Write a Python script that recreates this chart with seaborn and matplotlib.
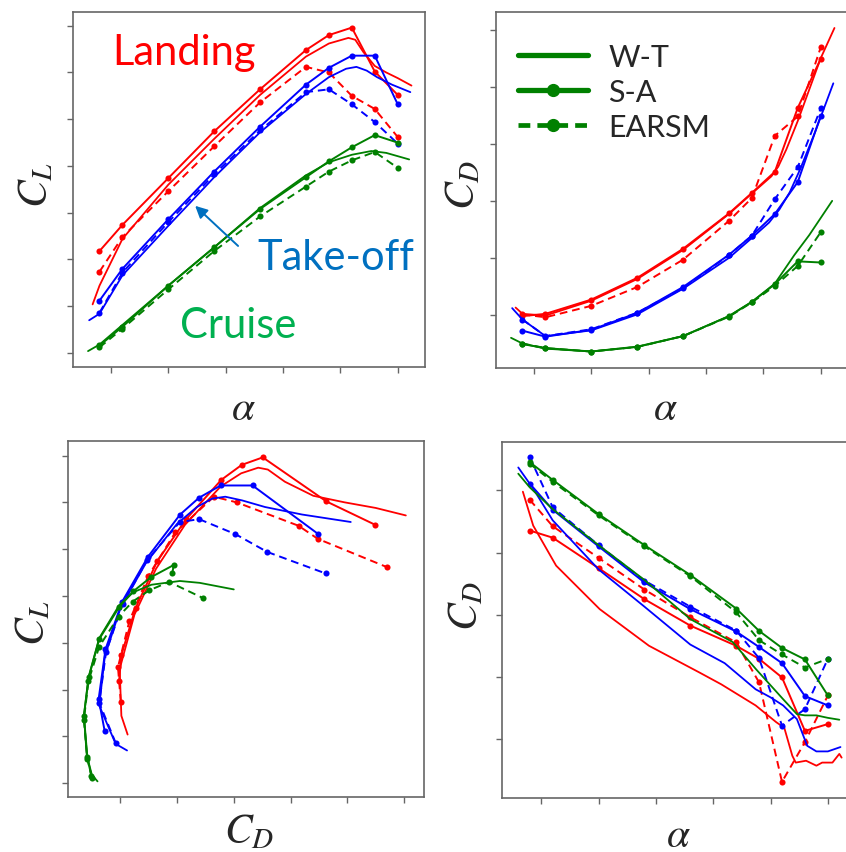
import matplotlib
matplotlib.use("Agg")
import matplotlib.pyplot as plt
import seaborn as sns
from matplotlib.lines import Line2D

# angles of attack of the CFD runs (deg)
alpha_cfd = [-1, 1, 5, 9, 13, 17, 19, 21, 23, 25]

# landing configuration
cl_sa_land = [1.09, 1.37, 1.87, 2.37, 2.82, 3.24, 3.40, 3.48, 3.01, 2.76]
cd_sa_land = [0.098, 0.102, 0.127, 0.165, 0.216, 0.278, 0.314, 0.351, 0.463, 0.549]
cl_earsm_land = [0.87, 1.24, 1.73, 2.21, 2.68, 3.06, 3.00, 2.75, 2.61, 2.31]
cd_earsm_land = [0.101, 0.096, 0.116, 0.149, 0.197, 0.265, 0.305, 0.414, 0.448, 0.569]
alpha_wt_land = [-1.6, -1, 1, 5, 9, 13, 17, 19, 20.7, 21.3, 22, 23, 24, 25, 26.2]
cl_wt_land = [0.52, 0.72, 1.22, 1.80, 2.29, 2.76, 3.17, 3.31, 3.37, 3.35, 3.22, 3.07, 3.00, 2.94, 2.86]
cd_wt_land = [0.113, 0.102, 0.099, 0.125, 0.163, 0.214, 0.277, 0.313, 0.343, 0.36, 0.39, 0.44, 0.495, 0.55, 0.603]

# take-off configuration
cl_sa_to = [0.56, 0.90, 1.43, 1.94, 2.42, 2.87, 3.05, 3.18, 3.18, 2.66]
cd_sa_to = [0.0725, 0.062, 0.074, 0.1035, 0.149, 0.2055, 0.239, 0.277, 0.333, 0.449]
cl_earsm_to = [0.43, 0.86, 1.40, 1.91, 2.38, 2.79, 2.82, 2.66, 2.47, 2.24]
cd_earsm_to = [0.092, 0.063, 0.075, 0.104, 0.147, 0.205, 0.239, 0.303, 0.359, 0.462]
alpha_wt_to = [-1.9, -1, 1, 5, 9, 13, 17, 19, 20.5, 21.4, 22.3, 23.2, 24.5, 26.1]
cl_wt_to = [0.35, 0.42, 0.83, 1.36, 1.88, 2.36, 2.77, 2.95, 3.04, 3.06, 3.02, 2.95, 2.87, 2.79]
cd_wt_to = [0.112, 0.092, 0.063, 0.073, 0.101, 0.146, 0.200, 0.235, 0.262, 0.285, 0.315, 0.355, 0.42, 0.506]

# cruise configuration
cl_sa_cr = [0.08, 0.28, 0.72, 1.13, 1.54, 1.88, 2.05, 2.20, 2.33, 2.25]
cd_sa_cr = [0.049, 0.042, 0.036, 0.0445, 0.063, 0.098, 0.123, 0.154, 0.194, 0.192]
cl_earsm_cr = [0.06, 0.26, 0.68, 1.09, 1.46, 1.78, 1.94, 2.06, 2.15, 1.98]
cd_earsm_cr = [0.050, 0.042, 0.036, 0.044, 0.063, 0.097, 0.122, 0.151, 0.186, 0.245]
alpha_wt_cr = [-2, -1, 1, 5, 9, 13, 17, 19, 21, 22.7, 24, 26]
cl_wt_cr = [0.02, 0.09, 0.30, 0.72, 1.13, 1.55, 1.90, 2.04, 2.12, 2.16, 2.14, 2.07]
cd_wt_cr = [0.060, 0.050, 0.041, 0.036, 0.044, 0.063, 0.098, 0.123, 0.155, 0.205, 0.24, 0.30]

# lower-right panel
d4_sa_land = [0.4355, 0.424, 0.375, 0.325, 0.2825, 0.250, 0.229, 0.199, 0.113, 0.124]
d4_earsm_land = [0.485, 0.4425, 0.3915, 0.3405, 0.296, 0.2555, 0.191, 0.031, 0.095, 0.170]
d4_sa_to = [0.511, 0.469, 0.410, 0.352, 0.309, 0.273, 0.248, 0.222, 0.169, 0.154]
d4_earsm_to = [0.5535, 0.473, 0.412, 0.355, 0.313, 0.2745, 0.230, 0.1215, 0.148, 0.229]
d4_sa_cr = [0.5455, 0.517, 0.462, 0.412, 0.364, 0.310, 0.274, 0.2465, 0.228, 0.170]
d4_earsm_cr = [0.543, 0.514, 0.460, 0.410, 0.362, 0.304, 0.259, 0.236, 0.215, 0.229]
alpha4_wt_land = [-1.6, -0.7, 1.3, 5.1, 9.4, 13.8, 15.7, 18.7, 20.5, 21.2, 21.9, 22.2, 23.1, 24.0, 24.5, 25.4, 26.0, 26.2]
d4_wt_land = [0.498, 0.4435, 0.379, 0.309, 0.250, 0.207, 0.188, 0.154, 0.127, 0.118, 0.073, 0.062, 0.065, 0.057, 0.062, 0.062, 0.076, 0.070]
alpha4_wt_to = [-2, -0.7, 1, 5, 9, 13, 16, 18.7, 20.0, 21.1, 22.3, 23.2, 24.0, 25.0, 26.1]
d4_wt_to = [0.537, 0.503, 0.452, 0.373, 0.313, 0.252, 0.222, 0.180, 0.167, 0.154, 0.132, 0.089, 0.080, 0.080, 0.087]
alpha4_wt_cr = [-2, -1, 1, 5, 9, 13, 16.7, 18.7, 21.1, 22.3, 23.0, 24.0, 25.0, 26.0]
d4_wt_cr = [0.527, 0.505, 0.470, 0.412, 0.356, 0.293, 0.256, 0.213, 0.164, 0.140, 0.138, 0.138, 0.134, 0.131]

RED, BLUE, GREEN = "#ff0000", "#0000ff", "#008000"

sns.set_style("ticks")
plt.rcParams["font.family"] = ["Lato", "DejaVu Sans"]
plt.rcParams["mathtext.fontset"] = "stix"
plt.rcParams["axes.edgecolor"] = "#666666"
plt.rcParams["axes.linewidth"] = 1.2
plt.rcParams["xtick.color"] = "#666666"
plt.rcParams["ytick.color"] = "#666666"


def draw(ax, x, y, color, kind):
    kw = dict(ax=ax, color=color, sort=False, estimator=None)
    if kind == "wt":
        sns.lineplot(x=x, y=y, lw=1.3, **kw)
    elif kind == "sa":
        sns.lineplot(x=x, y=y, lw=1.4, marker="o", markersize=4.4,
                     markeredgewidth=0, **kw)
    else:
        sns.lineplot(x=x, y=y, lw=1.4, linestyle=(0, (4, 2.5)), marker="o",
                     markersize=4.4, markeredgewidth=0, **kw)


W, H = 846, 853


def axes_px(left, top, right, bottom):
    return fig.add_axes([left / W, 1 - bottom / H, (right - left) / W, (bottom - top) / H])


fig = plt.figure(figsize=(8.46, 8.53), dpi=100)
ax1 = axes_px(73, 13, 425, 368)
ax2 = axes_px(496, 13, 848, 369)
ax3 = axes_px(68, 442, 424, 798)
ax4 = axes_px(502, 443, 854, 799)

sets = [
    (RED, alpha_wt_land, cl_wt_land, cd_wt_land, cl_sa_land, cd_sa_land,
     cl_earsm_land, cd_earsm_land, alpha4_wt_land, d4_wt_land, d4_sa_land, d4_earsm_land),
    (BLUE, alpha_wt_to, cl_wt_to, cd_wt_to, cl_sa_to, cd_sa_to,
     cl_earsm_to, cd_earsm_to, alpha4_wt_to, d4_wt_to, d4_sa_to, d4_earsm_to),
    (GREEN, alpha_wt_cr, cl_wt_cr, cd_wt_cr, cl_sa_cr, cd_sa_cr,
     cl_earsm_cr, cd_earsm_cr, alpha4_wt_cr, d4_wt_cr, d4_sa_cr, d4_earsm_cr),
]

for (c, a_wt, cl_wt, cd_wt, cl_sa, cd_sa, cl_ea, cd_ea, a4_wt, d4_wt, d4_sa, d4_ea) in sets:
    # C_L vs alpha
    draw(ax1, a_wt, cl_wt, c, "wt")
    draw(ax1, alpha_cfd, cl_sa, c, "sa")
    draw(ax1, alpha_cfd, cl_ea, c, "earsm")
    # C_D vs alpha
    draw(ax2, a_wt, cd_wt, c, "wt")
    draw(ax2, alpha_cfd, cd_sa, c, "sa")
    draw(ax2, alpha_cfd, cd_ea, c, "earsm")
    # drag polar
    draw(ax3, cd_wt, cl_wt, c, "wt")
    draw(ax3, cd_sa, cl_sa, c, "sa")
    draw(ax3, cd_ea, cl_ea, c, "earsm")
    # lower-right panel
    draw(ax4, a4_wt, d4_wt, c, "wt")
    draw(ax4, alpha_cfd, d4_sa, c, "sa")
    draw(ax4, alpha_cfd, d4_ea, c, "earsm")

alpha_ticks = [0, 5, 10, 15, 20, 25]
cl_ticks = [0, 0.5, 1.0, 1.5, 2.0, 2.5, 3.0, 3.5]
cd_ticks = [0.1, 0.2, 0.3, 0.4, 0.5, 0.6]
d4_ticks = [0.1, 0.2, 0.3, 0.4, 0.5]

ax1.set(xlim=(-3.31, 27.38), ylim=(-0.15, 3.647), xticks=alpha_ticks, yticks=cl_ticks)
ax2.set(xlim=(-3.31, 27.38), ylim=(0.0071, 0.631), xticks=alpha_ticks, yticks=cd_ticks)
ax3.set(xlim=(0.008, 0.635), ylim=(-0.147, 3.655), xticks=cd_ticks, yticks=cl_ticks)
ax4.set(xlim=(-3.42, 27.28), ylim=(0.005, 0.578), xticks=alpha_ticks, yticks=d4_ticks)

labels = [
    (ax1, r"$\alpha$", r"$C_L$", (0.483, -0.113), (-0.105, 0.515)),
    (ax2, r"$\alpha$", r"$C_D$", (0.48, -0.11), (-0.094, 0.517)),
    (ax3, r"$C_D$", r"$C_L$", (0.508, -0.094), (-0.098, 0.492)),
    (ax4, r"$\alpha$", r"$C_D$", (0.5, -0.101), (-0.102, 0.542)),
]
for ax, xl, yl, xpos, ypos in labels:
    ax.tick_params(labelbottom=False, labelleft=False, length=4, width=1)
    ax.set_xlabel(xl, fontsize=30, va="center")
    ax.set_ylabel(yl, fontsize=30, va="center")
    ax.xaxis.set_label_coords(*xpos)
    ax.yaxis.set_label_coords(*ypos)

# configuration names
ax1.text(0.111, 0.854, "Landing", color="#ff0000", fontsize=30,
         transform=ax1.transAxes, va="baseline")
ax1.text(0.523, 0.276, "Take-off", color="#0070c0", fontsize=30,
         transform=ax1.transAxes, va="baseline")
ax1.text(0.304, 0.0845, "Cruise", color="#00b050", fontsize=30,
         transform=ax1.transAxes, va="baseline")
ax1.annotate("", xy=(0.347, 0.454), xytext=(0.469, 0.341),
             xycoords="axes fraction", textcoords="axes fraction",
             arrowprops=dict(arrowstyle="-|>", color="#0070c0", lw=1.4,
                             mutation_scale=18, shrinkA=0, shrinkB=0))

handles = [
    Line2D([], [], color=GREEN, lw=3.8),
    Line2D([], [], color=GREEN, lw=3.8, marker="o", markersize=8.5),
    Line2D([], [], color=GREEN, lw=3.4, linestyle=(0, (2.5, 1.5)), marker="o", markersize=8.5),
]
ax2.legend(handles, ["W-T", "S-A", "EARSM"], loc="upper left",
           bbox_to_anchor=(-0.015, 0.99), frameon=False, fontsize=22,
           handlelength=2.3, labelspacing=0.22, handletextpad=0.65)

fig.savefig("out.png", dpi=100)
